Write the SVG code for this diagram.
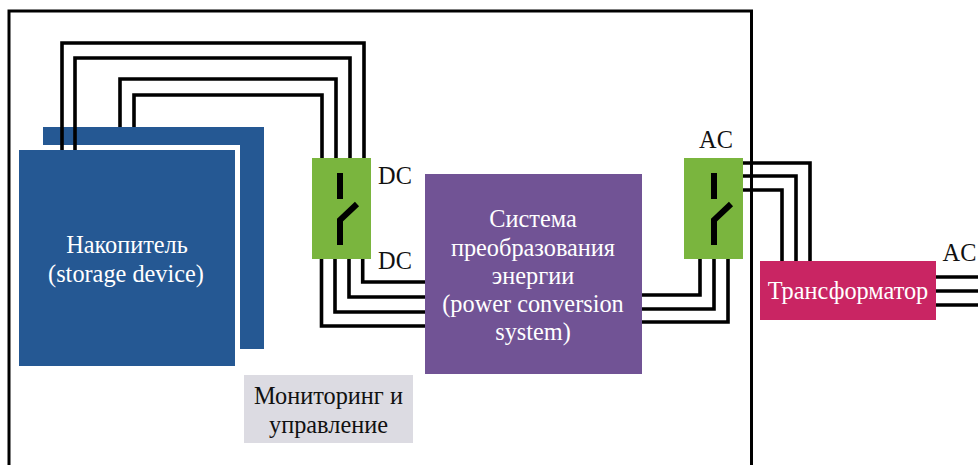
<svg xmlns="http://www.w3.org/2000/svg" width="978" height="465" viewBox="0 0 978 465">
<style>
.w{fill:none;stroke:#000;stroke-width:3.6}
.sw{fill:none;stroke:#000;stroke-width:6}
text{font-family:"Liberation Serif","Times New Roman",serif;font-size:24.3px;text-anchor:middle}
.l{fill:#fff}
.d{fill:#111}
</style>
<rect width="978" height="465" fill="#fff"/>
<g id="storage-back"><rect x="43" y="127" width="221" height="222" fill="#255893"/></g>
<g id="frame"><path d="M9 465V11H751.5V465" fill="none" stroke="#000" stroke-width="3"/></g>
<g id="connectors">
<path class="w" d="M62 150V43H364V158"/>
<path class="w" d="M75 150V58H350V158"/>
<path class="w" d="M120 127V79H336V158"/>
<path class="w" d="M134 127V95H322V158"/>
<path class="w" d="M362.7 259V282H425"/>
<path class="w" d="M349 259V297H425"/>
<path class="w" d="M335 259V312H425"/>
<path class="w" d="M321.5 259V326H425"/>
<path class="w" d="M642 295H700V259"/>
<path class="w" d="M642 309H714V259"/>
<path class="w" d="M642 322H728V259"/>
<path class="w" d="M743 163H810V261"/>
<path class="w" d="M743 176H796V261"/>
<path class="w" d="M743 190H782V261"/>
<path class="w" d="M936 277H978"/>
<path class="w" d="M936 291H978"/>
<path class="w" d="M936 305H978"/>
</g>
<g id="storage-front">
<rect x="14" y="145" width="226" height="226" fill="#fff"/>
<path d="M62 145V150M75 145V150.500" class="w"/>
<rect x="19" y="150" width="216" height="216" fill="#255893"/>
<text class="l" x="127" y="253">Накопитель</text>
<text class="l" x="126" y="282">(storage device)</text>
</g>
<g id="switch-dc">
<rect x="312" y="158" width="59" height="101" fill="#7AB53E"/>
<path class="sw" d="M340 173V199M340 245V220L357 204"/>
</g>
<g id="switch-ac">
<rect x="684" y="158" width="59" height="101" fill="#7AB53E"/>
<path class="sw" d="M714 173V199M714 245V220L731 204"/>
</g>
<g id="pcs">
<rect x="425" y="174" width="217" height="200" fill="#715395"/>
<text class="l" x="533" y="227">Система</text>
<text class="l" x="533" y="256">преобразования</text>
<text class="l" x="533" y="284">энергии</text>
<text class="l" x="533" y="312">(power conversion</text>
<text class="l" x="533" y="340">system)</text>
</g>
<g id="transformer">
<rect x="760" y="261" width="176" height="59" fill="#C92563"/>
<text class="l" x="848" y="299">Трансформатор</text>
</g>
<g id="monitoring">
<rect x="244" y="375" width="169" height="68" fill="#DCDBE2"/>
<text class="d" x="328.500" y="404">Мониторинг и</text>
<text class="d" x="328.500" y="433">управление</text>
</g>
<g id="labels">
<text class="d" x="395" y="184">DC</text>
<text class="d" x="395" y="269">DC</text>
<text class="d" x="716" y="148">AC</text>
<text class="d" x="959.500" y="261">AC</text>
</g>
</svg>
